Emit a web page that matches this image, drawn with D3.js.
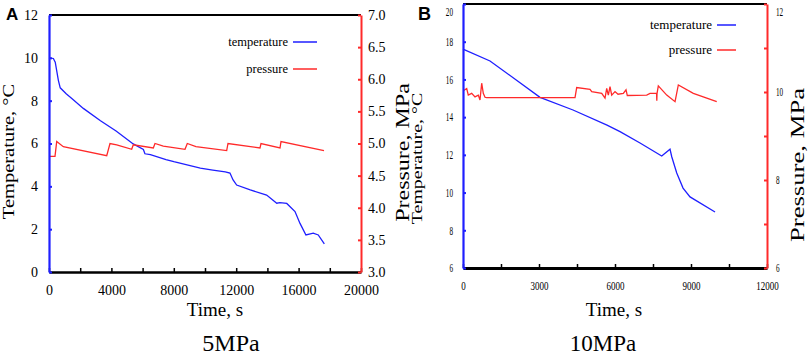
<!DOCTYPE html>
<html><head><meta charset="utf-8">
<script src="https://cdn.jsdelivr.net/npm/d3@7"></script>
<style>body{margin:0;background:#fff}svg{display:block}</style>
</head><body>
<script>
// ---------- DATA ----------
const xTicksA = [0,2000,4000,6000,8000,10000,12000,14000,16000,18000,20000];
const yTicksAL = [0,2,4,6,8,10,12];
const yTicksAR = [3,3.5,4,4.5,5,5.5,6,6.5,7];
const tempA = [[0,10.0],[280,9.97],[400,9.8],[600,8.95],[720,8.6],[1100,8.32],[1500,8.08],[2200,7.64],[3300,7.06],[4300,6.58],[5400,5.98],[6050,5.72],[6150,5.52],[6500,5.48],[7500,5.25],[8000,5.15],[9700,4.85],[10500,4.76],[11300,4.68],[11600,4.62],[11800,4.3],[12030,4.06],[12900,3.83],[13950,3.59],[14600,3.21],[14800,3.24],[15240,3.2],[15770,2.82],[16090,2.27],[16470,1.73],[16940,1.81],[17260,1.73],[17650,1.31]];
const presA = [[0,4.8],[385,4.8],[494,5.03],[917,4.95],[3700,4.81],[3910,5.0],[4340,4.98],[5300,4.91],[5404,4.98],[6686,4.93],[6795,5.0],[7327,4.96],[8718,4.91],[8865,5.0],[9420,4.95],[11390,4.89],[11474,5.0],[13526,4.93],[13590,5.0],[14808,4.93],[14872,5.03],[17628,4.89]];
const xTicksB = [0,1500,3000,4500,6000,7500,9000,10500,12000];
const yTicksBL = [6,8,10,12,14,16,18,20];
const yTicksBR = [6,7,8,9,10,11,12];
const tempB = [[0,17.61],[1066,16.98],[3040,15.05],[4343,14.38],[5685,13.58],[6198,13.23],[6988,12.63],[7844,11.94],[8172,12.3],[8240,11.9],[8437,11.04],[8686,10.24],[8962,9.77],[9949,8.97]];
const presB = [[12,10.03],[146,10.08],[209,9.93],[343,9.97],[474,9.89],[604,9.93],[671,9.82],[738,10.2],[801,9.97],[869,9.88],[936,9.87],[4422,9.87],[4488,10.1],[5014,10.06],[5081,10.01],[5476,9.97],[5606,9.86],[5673,10.08],[5737,9.93],[5803,10.12],[5870,9.93],[6001,10.01],[6120,9.95],[6329,9.97],[6435,10.05],[6486,9.92],[7252,9.93],[7383,9.97],[7640,9.97],[7650,9.8],[7660,9.97],[7710,10.14],[8042,9.93],[8370,9.78],[8500,10.16],[9092,9.97],[10016,9.78]];
const legendLabels = ["temperature","pressure"];
const panelLetters = ["A","B"];
const captions = ["5MPa","10MPa"];

// ---------- SETUP ----------
const W=809,H=357;
const BLUE="#1f1fff", RED="#ff2a2a";
const svg=d3.select("body").append("svg").attr("width",W).attr("height",H);
const serif="'Liberation Serif','Times New Roman',serif";
const sans="'Liberation Sans',Arial,sans-serif";

function panel(o){
  const g=svg.append("g");
  const x=d3.scaleLinear().domain(o.xd).range(o.xr);
  const yl=d3.scaleLinear().domain(o.yld).range(o.yr);
  const yr=d3.scaleLinear().domain(o.yrd).range(o.yr);
  const [x0,x1]=o.xr,[yb,yt]=o.yr;
  g.append("path").datum(o.temp).attr("fill","none").attr("stroke",BLUE).attr("stroke-width",1.3)
    .attr("d",d3.line().x(d=>x(d[0])).y(d=>yl(d[1])));
  g.append("path").datum(o.pres).attr("fill","none").attr("stroke",RED).attr("stroke-width",1.3)
    .attr("d",d3.line().x(d=>x(d[0])).y(d=>yr(d[1])));
  g.append("line").attr("x1",x0).attr("x2",x1).attr("y1",yt).attr("y2",yt).attr("stroke","#000").attr("stroke-width",2);
  const ax=g.append("g").attr("transform",`translate(0,${yb})`)
    .call(d3.axisBottom(x).tickValues(o.xt).tickFormat(o.xf).tickSize(-4).tickSizeOuter(0).tickPadding(o.xpad));
  ax.select(".domain").attr("stroke","#000").attr("stroke-width",o.bw);
  ax.selectAll(".tick line").attr("stroke","#000").attr("stroke-width",1.5);
  ax.selectAll("text").attr("font-family",serif).attr("font-size",o.tfs).attr("fill","#000")
    .attr("transform",`scale(${o.xsc},1)`);
  const al=g.append("g").attr("transform",`translate(${x0},0)`)
    .call(d3.axisLeft(yl).tickValues(o.ylt).tickFormat(o.ylf).tickSize(-3).tickSizeOuter(0).tickPadding(o.lpad));
  al.select(".domain").attr("stroke",BLUE).attr("stroke-width",2.2);
  al.selectAll(".tick line").attr("stroke",BLUE).attr("stroke-width",2);
  al.selectAll("text").attr("font-family",serif).attr("font-size",o.tfs).attr("fill","#000")
    .attr("transform",`scale(${o.ysc},1)`).attr("x",-o.lpad/o.ysc)
    .attr("dy",d=>yl(d)<10?"0.95em":"0.32em");
  const ar=g.append("g").attr("transform",`translate(${x1},0)`)
    .call(d3.axisRight(yr).tickValues(o.yrt).tickFormat(o.yrf).tickSize(-3).tickSizeOuter(0).tickPadding(o.rpad));
  ar.select(".domain").attr("stroke",RED).attr("stroke-width",2);
  ar.selectAll(".tick line").attr("stroke",RED).attr("stroke-width",2);
  ar.selectAll("text").attr("font-family",serif).attr("font-size",o.tfs).attr("fill","#000")
    .attr("transform",`scale(${o.ysc},1)`).attr("x",o.rpad/o.ysc)
    .attr("dy",d=>yr(d)<10?"0.95em":"0.32em");
  function rot(t,bx,cy,fs,sc){
    g.append("text").attr("transform",`translate(${bx},${cy}) rotate(-90) scale(1,${sc})`)
      .attr("text-anchor","middle").attr("font-family",serif).attr("font-size",fs).attr("fill","#000").text(t);
  }
  rot("Temperature, °C",o.tl[0],o.tl[1],o.tl[2],o.tl[3]);
  rot("Pressure, MPa",o.pl[0],o.pl[1],o.pl[2],o.pl[3]);
  g.append("text").attr("x",o.xl[0]).attr("y",o.xl[1]).attr("text-anchor","middle").attr("font-family",serif)
    .attr("font-size",19).text("Time, s");
  g.append("text").attr("x",o.cap[0]).attr("y",o.cap[1]).attr("text-anchor","middle").attr("font-family",serif)
    .attr("font-size",o.cap[2]).text(o.caption);
  g.append("text").attr("x",o.letter[0]).attr("y",o.letter[1]).attr("font-family",sans).attr("font-weight","bold")
    .attr("font-size",o.letter[2]).text(o.letterText);
  [BLUE,RED].forEach((c,i)=>{
    const ly=o.leg[1]+i*o.leg[2];
    g.append("text").attr("x",o.leg[0]).attr("y",ly+4).attr("text-anchor","end").attr("font-family",serif)
      .attr("font-size",o.leg[4]).text(legendLabels[i]);
    g.append("line").attr("x1",o.leg[0]+5).attr("x2",o.leg[0]+5+o.leg[3]).attr("y1",ly).attr("y2",ly)
      .attr("stroke",c).attr("stroke-width",1.5);
  });
}

panel({xd:[0,20000],xr:[49,361],yld:[0,12],yrd:[3,7],yr:[272,15],
  temp:tempA,pres:presA,xt:xTicksA,xf:d=>d%4000===0?d:"",xpad:13,bw:2.5,tfs:14,xsc:1,
  ylt:yTicksAL,ylf:d3.format("d"),yrt:yTicksAR,yrf:d3.format(".1f"),lpad:11,rpad:7,ysc:1,
  tl:[13.6,151.5,20.5,0.78],pl:[409,152.5,24,0.75],xl:[215,316],cap:[231,351,24],caption:captions[0],
  letter:[6,20,17],letterText:panelLetters[0],leg:[288,42,27,24,12.5]});

panel({xd:[0,12000],xr:[463,767],yld:[6,20],yrd:[6,12],yr:[268,4],
  temp:tempB,pres:presB,xt:xTicksB,xf:d=>d%3000===0?d:"",xpad:13,bw:3,tfs:12,xsc:0.75,
  ylt:yTicksBL,ylf:d3.format("d"),yrt:yTicksBR,yrf:d=>d%2===0?d:"",lpad:10,rpad:9,ysc:0.6,
  tl:[421.8,158.5,19.9,0.74],pl:[804,165,26.7,0.68],xl:[614,316],cap:[603,351,23],caption:captions[1],
  letter:[418,20,18],letterText:panelLetters[1],leg:[712,25,25,19,13]});
</script>
</body></html>
